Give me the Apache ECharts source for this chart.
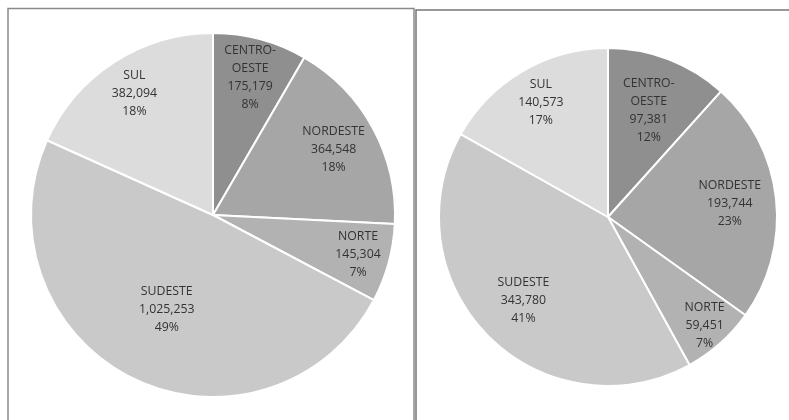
<!DOCTYPE html>
<html>
<head>
<meta charset="utf-8">
<script src="https://cdn.jsdelivr.net/npm/echarts@6/dist/echarts.min.js"></script>
<style>html,body{margin:0;padding:0;background:#fff}#c{width:789px;height:420px}</style>
</head>
<body>
<div id="c"></div>
<script>
const categories = ['CENTRO-OESTE', 'NORDESTE', 'NORTE', 'SUDESTE', 'SUL'];
const labelNames = ['CENTRO-\nOESTE', 'NORDESTE', 'NORTE', 'SUDESTE', 'SUL'];
const valuesLeft = [175179, 364548, 145304, 1025253, 382094];
const valuesRight = [97381, 193744, 59451, 343780, 140573];
const percentLeft = ['8%', '18%', '7%', '49%', '18%'];
const percentRight = ['12%', '23%', '7%', '41%', '17%'];

const colors = ['#8f8f8f', '#a6a6a6', '#b2b2b2', '#c9c9c9', '#dcdcdc'];
// label radial positions as a fraction of radius (styling)
const labelFracLeft = [0.76, 0.73, 0.80, 0.56, 0.77];
const labelFracRight = [0.65, 0.70, 0.83, 0.68, 0.76];
const pies = [
  {center: [213, 215], radius: 182, values: valuesLeft, pct: percentLeft, frac: labelFracLeft},
  {center: [608, 217], radius: 169, values: valuesRight, pct: percentRight, frac: labelFracRight}
];

const fmt = v => v.toLocaleString('en-US');

const chart = echarts.init(document.getElementById('c'));
const series = pies.map((p, si) => ({
  type: 'pie',
  center: p.center,
  radius: p.radius,
  startAngle: 90,
  clockwise: true,
  animation: false,
  silent: true,
  itemStyle: {borderColor: '#ffffff', borderWidth: 2},
  label: {
    show: true,
    position: 'inside',
    fontFamily: 'Open Sans',
    fontSize: 12.3,
    lineHeight: 18,
    color: '#333333',
    align: 'center',
    formatter: params => labelNames[params.dataIndex] + '\n' + fmt(params.value) + '\n' + p.pct[params.dataIndex]
  },
  labelLine: {show: false},
  labelLayout: params => {
    const r = params.labelRect;
    const lx = r.x + r.width / 2, ly = r.y + r.height / 2;
    const k = p.frac[params.dataIndex] / 0.5 - 1;
    return {dx: (lx - p.center[0]) * k, dy: (ly - p.center[1]) * k};
  },
  data: categories.map((c, i) => ({name: c, value: p.values[i], itemStyle: {color: colors[i]}}))
}));

chart.setOption({
  backgroundColor: '#ffffff',
  graphic: [
    {type: 'polyline', shape: {points: [[8, 430], [8, 8.5], [414, 8.5], [414, 430]]}, style: {stroke: '#8a8a8a', lineWidth: 1.5, fill: null}},
    {type: 'polyline', shape: {points: [[416, 430], [416, 10], [800, 10]]}, style: {stroke: '#777777', lineWidth: 1.5, fill: null}}
  ],
  series: series
});
</script>
</body>
</html>
